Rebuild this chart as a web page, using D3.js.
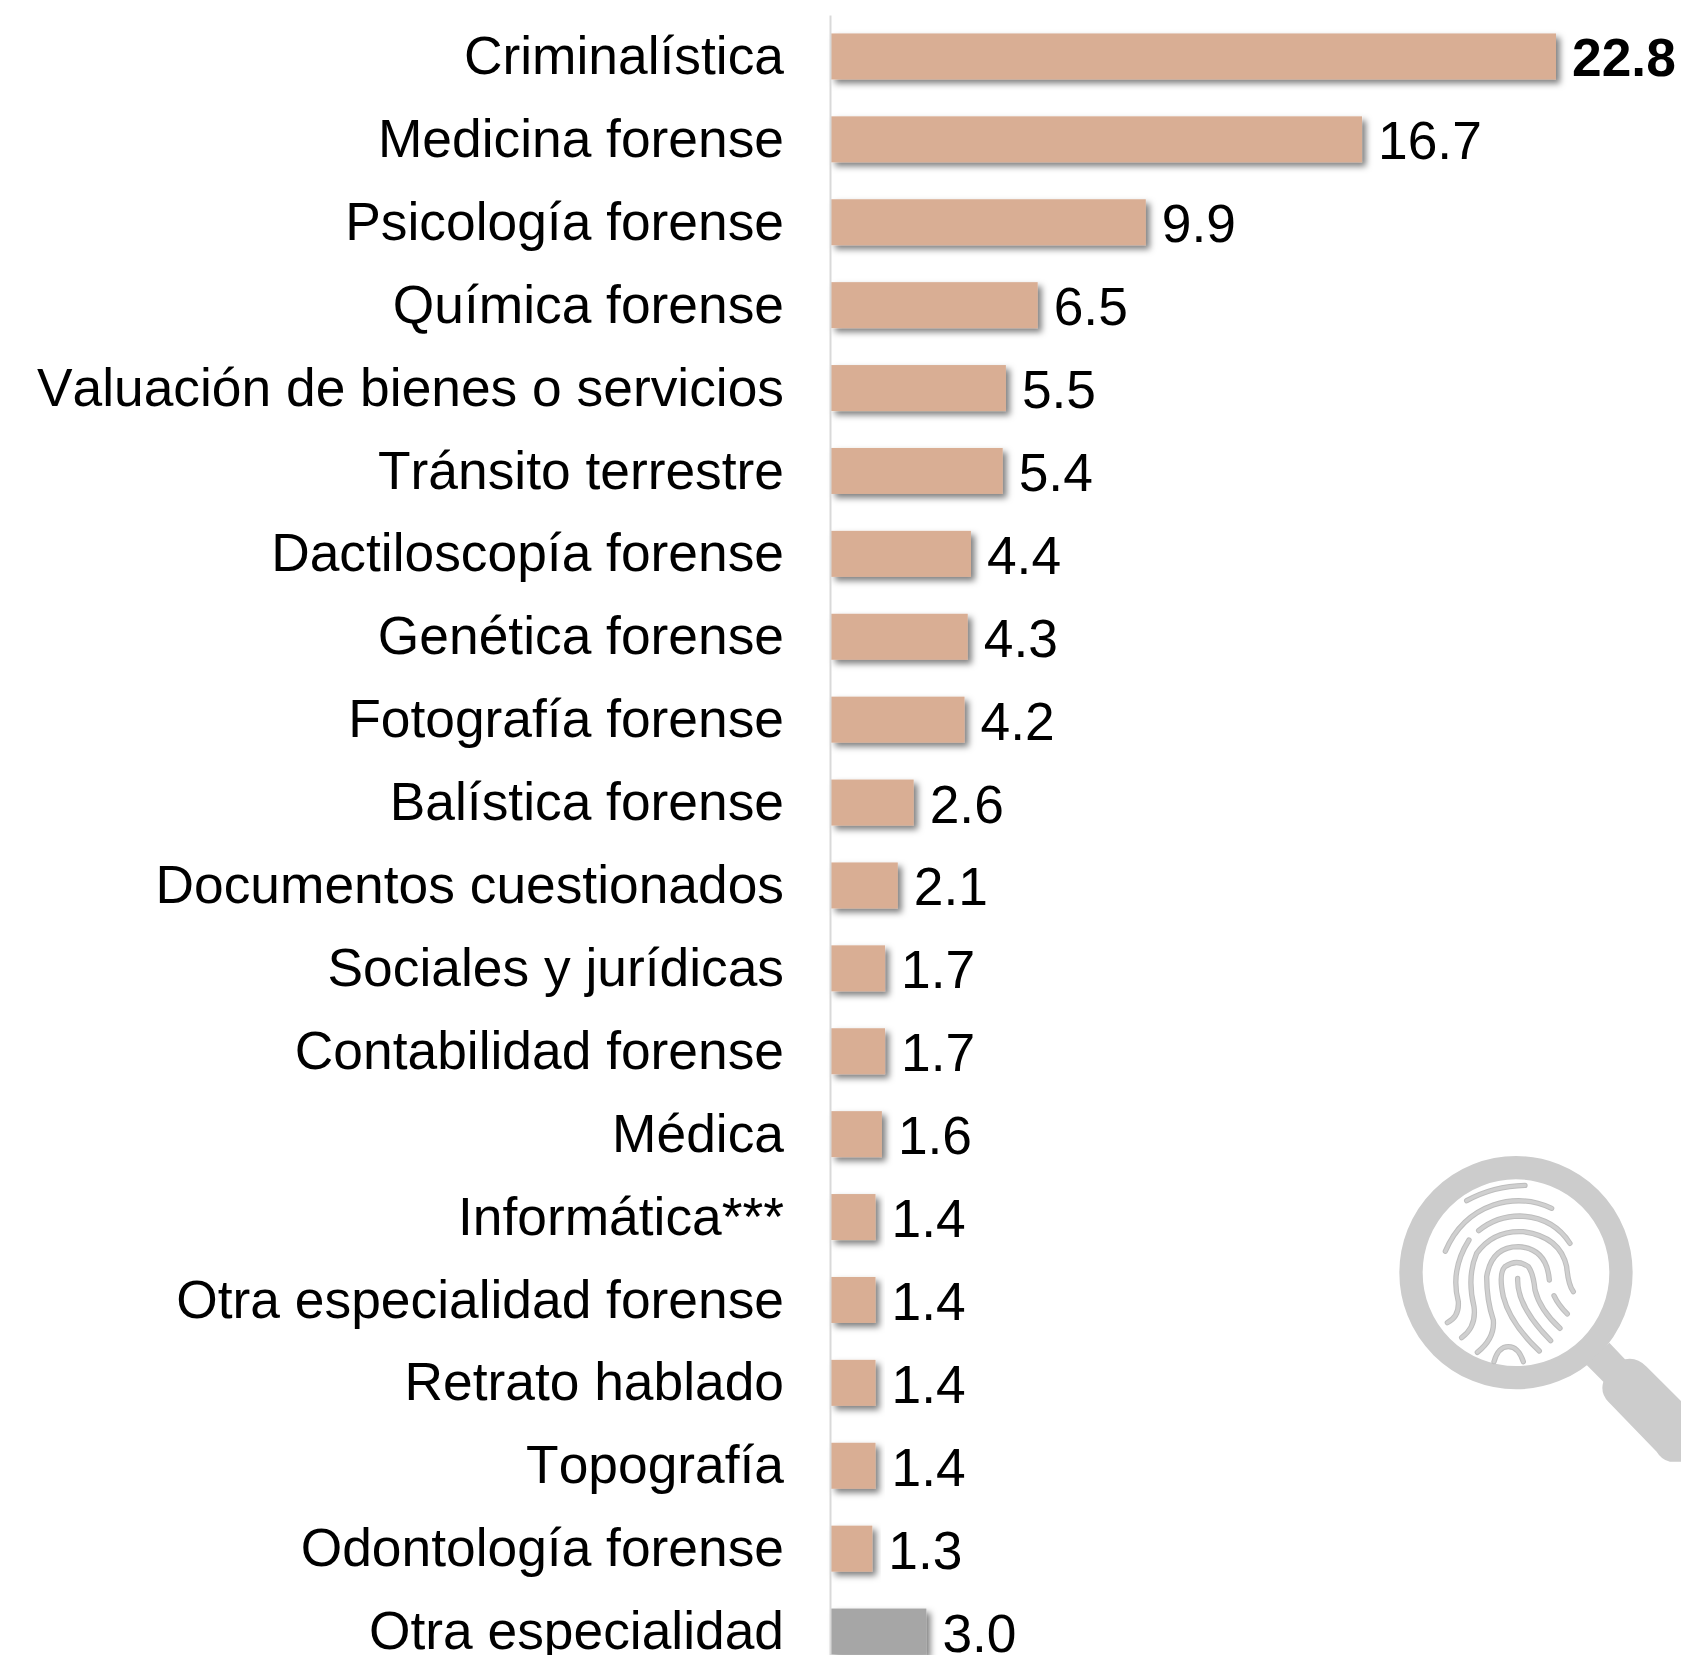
<!DOCTYPE html>
<html>
<head>
<meta charset="utf-8">
<script src="https://cdn.jsdelivr.net/npm/d3@7"></script>
<style>
    html, body { margin: 0; padding: 0; background: #fff; overflow: hidden; }
    svg { display: block; }
    text { font-family: "Liberation Sans", Arial, sans-serif; fill: #000; font-kerning: none; }
</style>
</head>
<body>
<div id="chart"></div>
<script>
var categories = ["Criminalística", "Medicina forense", "Psicología forense", "Química forense",
    "Valuación de bienes o servicios", "Tránsito terrestre", "Dactiloscopía forense", "Genética forense",
    "Fotografía forense", "Balística forense", "Documentos cuestionados", "Sociales y jurídicas",
    "Contabilidad forense", "Médica", "Informática***", "Otra especialidad forense", "Retrato hablado",
    "Topografía", "Odontología forense", "Otra especialidad"];
var values = [22.8, 16.7, 9.9, 6.5, 5.5, 5.4, 4.4, 4.3, 4.2, 2.6, 2.1, 1.7, 1.7, 1.6, 1.4, 1.4, 1.4, 1.4, 1.3, 3.0];

// fingerprint lines, in 3x crop pixels of the icon
var print_lines = [
    "M290,212Q370,168 465,166",
    "M226,364Q270,260 370,225Q460,195 545,235",
    "M326,302Q380,258 450,258Q550,262 600,340",
    "M232,578Q268,560 265,515Q240,420 297,330",
    "M275,623Q320,590 312,530Q290,440 320,370Q370,300 460,305Q570,320 590,410Q595,465 610,485",
    "M322,667Q375,625 370,570Q350,510 350,440Q365,350 445,350Q530,355 538,450",
    "M508,663Q420,580 400,500Q385,430 405,410Q440,385 475,410Q490,430 495,480Q510,540 570,595",
    "M443,445Q440,530 542,632",
    "M552,497Q565,525 592,552",
    "M372,695Q385,650 415,650Q445,650 460,695"
];

var width = 1681, height = 1655;
var x0 = 831, font_size = 53.33;

var svg = d3.select("#chart").append("svg")
    .attr("width", width)
    .attr("height", height);

// bar shadow
var shadow = svg.append("defs").append("filter")
    .attr("id", "bar_shadow")
    .attr("x", "-10%").attr("y", "-20%")
    .attr("width", "130%").attr("height", "150%");
shadow.append("feDropShadow")
    .attr("dx", 4).attr("dy", 4)
    .attr("stdDeviation", 3)
    .attr("flood-color", "#000")
    .attr("flood-opacity", 0.5);

var x = d3.scaleLinear().domain([0, 22.8]).range([x0, 1556]);
var y = d3.scaleBand().domain(categories).range([15, 1673])
    .paddingInner(0.445).paddingOuter(0.2225);

var rows = categories.map(function(c, i) { return {name: c, value: values[i]}; });

// magnifier icon
var icon = svg.append("g")
    .attr("transform", "translate(1370,1130) scale(0.3333)");
icon.append("circle")
    .attr("cx", 438).attr("cy", 428).attr("r", 315)
    .attr("fill", "none").attr("stroke", "#cccccc").attr("stroke-width", 70);
icon.append("path")
    .attr("d", "M718,638L765,688Q800,680 830,710L1010,890L950,995L900,995Q875,990 860,965L715,815Q690,790 700,755L650,705Z")
    .attr("fill", "#cccccc");
icon.selectAll("path.under").data(print_lines).enter().append("path")
    .attr("class", "under").attr("d", function(d) { return d; })
    .attr("fill", "none").attr("stroke", "#bdbdbd")
    .attr("stroke-width", 16).attr("stroke-linecap", "round");
icon.selectAll("path.over").data(print_lines).enter().append("path")
    .attr("class", "over").attr("d", function(d) { return d; })
    .attr("fill", "none").attr("stroke", "#d0d0d0")
    .attr("stroke-width", 10).attr("stroke-linecap", "round");

// bars
svg.selectAll("rect.bar").data(rows).enter().append("rect")
    .attr("class", "bar")
    .attr("x", x0)
    .attr("y", function(d) { return y(d.name); })
    .attr("width", function(d) { return x(d.value) - x0; })
    .attr("height", y.bandwidth())
    .attr("fill", function(d) { return d.name === "Otra especialidad" ? "#a6a6a6" : "#d9ae94"; })
    .attr("filter", "url(#bar_shadow)");

// category axis
var axis = svg.append("g")
    .attr("transform", "translate(" + (x0 - 1) + ",0)")
    .call(d3.axisLeft(y).tickSize(0).tickPadding(46));
axis.select(".domain").attr("stroke", "#d9d9d9").attr("stroke-width", 2);
axis.selectAll("text")
    .style("font-size", font_size + "px")
    .style("font-family", '"Liberation Sans", Arial, sans-serif')
    .attr("fill", "#000")
    .attr("dy", "0.33em");

// value labels
svg.selectAll("text.value").data(rows).enter().append("text")
    .attr("class", "value")
    .attr("x", function(d) { return x(d.value) + 16; })
    .attr("y", function(d) { return y(d.name) + y.bandwidth() / 2 + 20; })
    .attr("font-size", font_size)
    .attr("font-weight", function(d, i) { return i === 0 ? "bold" : "normal"; })
    .text(function(d) { return d.value.toFixed(1); });
</script>
</body>
</html>
